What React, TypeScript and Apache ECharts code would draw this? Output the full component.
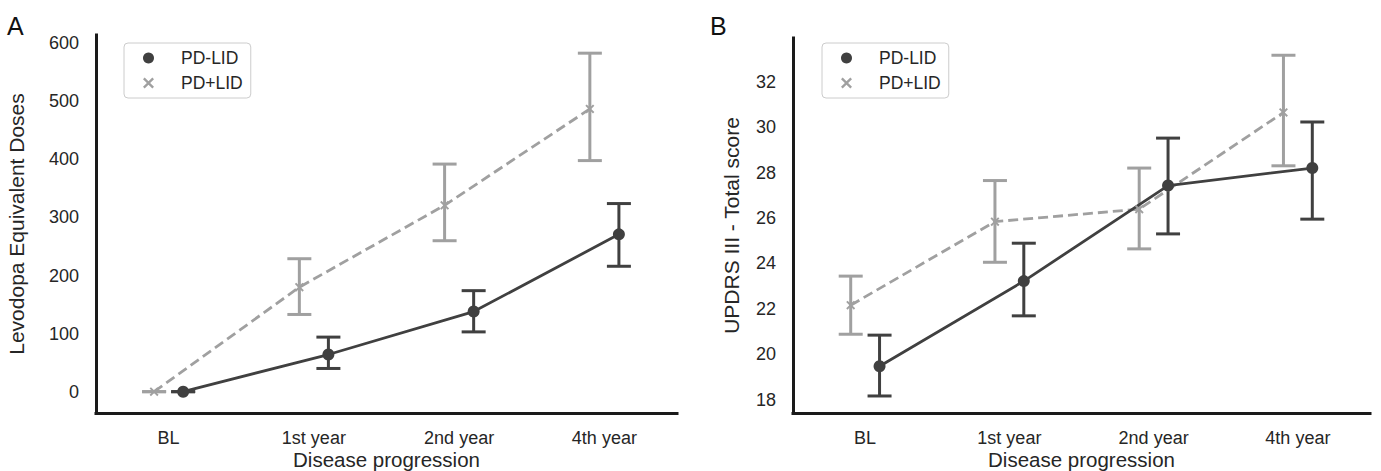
import React, { useEffect, useRef } from "react";
import * as echarts from "echarts";

const categories = ["BL", "1st year", "2nd year", "4th year"];
const seriesNames = ["PD-LID", "PD+LID"];

// Panel A: Levodopa Equivalent Doses
const ledNoLid = [0, 64, 138, 271];
const ledNoLidLo = [0, 40, 103, 216];
const ledNoLidHi = [0, 94, 174, 324];
const ledLid = [0, 180, 321, 487];
const ledLidLo = [0, 133, 260, 398];
const ledLidHi = [0, 229, 392, 583];
const ledTicks = [0, 100, 200, 300, 400, 500, 600];

// Panel B: UPDRS III - Total score
const updNoLid = [19.47, 23.22, 27.43, 28.2];
const updNoLidLo = [18.16, 21.69, 25.3, 25.95];
const updNoLidHi = [20.84, 24.89, 29.52, 30.23];
const updLid = [22.16, 25.84, 26.39, 30.65];
const updLidLo = [20.88, 24.05, 24.64, 28.3];
const updLidHi = [23.44, 27.65, 28.2, 33.17];
const updTicks = [18, 20, 22, 24, 26, 28, 30, 32];

const DARK = "#404040";
const LIGHT = "#a0a0a0";
const AXIS = "#1a1a1a";
const TEXT = "#262626";
const FONT = "'Liberation Sans', Arial, sans-serif";
const X_PATH =
  "path://M1.5,0L5,3.5L8.5,0L10,1.5L6.5,5L10,8.5L8.5,10L5,6.5L1.5,10L0,8.5L3.5,5L0,1.5Z";
const DODGE = 0.1;

function errorBarSeries(name: string, color: string, offset: number, lo: number[], hi: number[], g: number) {
  return {
    type: "custom",
    name,
    xAxisIndex: g,
    yAxisIndex: g,
    z: 2,
    silent: true,
    encode: { x: 0, y: [1, 2] },
    data: categories.map((_, i) => [i + offset, lo[i], hi[i]]),
    renderItem: (params: any, api: any) => {
      const x = api.value(0);
      const a = api.coord([x, api.value(1)]);
      const b = api.coord([x, api.value(2)]);
      const cw = 12;
      const style = { stroke: color, lineWidth: 3 };
      return {
        type: "group",
        children: [
          { type: "line", shape: { x1: a[0], y1: a[1], x2: b[0], y2: b[1] }, style },
          { type: "line", shape: { x1: a[0] - cw, y1: a[1], x2: a[0] + cw, y2: a[1] }, style },
          { type: "line", shape: { x1: b[0] - cw, y1: b[1], x2: b[0] + cw, y2: b[1] }, style },
        ],
      };
    },
  };
}

function lineSeries(name: string, color: string, offset: number, vals: number[], g: number, dashed: boolean) {
  return {
    type: "line",
    name,
    xAxisIndex: g,
    yAxisIndex: g,
    z: 3,
    data: vals.map((v, i) => [i + offset, v]),
    symbol: dashed ? X_PATH : "circle",
    symbolSize: dashed ? 9 : 12,
    itemStyle: { color, borderWidth: 0 },
    lineStyle: { color, width: 2.8, type: dashed ? [10, 5] : "solid" },
  };
}

function xAxis(g: number) {
  return {
    type: "value",
    gridIndex: g,
    min: -0.5,
    max: 3.5,
    axisLine: { onZero: false, lineStyle: { color: AXIS, width: 3, cap: "square" } },
    axisTick: { show: false },
    splitLine: { show: false },
    axisLabel: {
      customValues: [0, 1, 2, 3],
      formatter: (v: number) => categories[Math.round(v)] ?? "",
      fontSize: 18,
      color: TEXT,
      margin: 16,
      fontFamily: FONT,
    },
    name: "Disease progression",
    nameLocation: "middle",
    nameGap: 36,
    nameMoveOverlap: false,
    nameTextStyle: { fontSize: 20.5, color: TEXT, fontFamily: FONT, lineHeight: 21 },
  };
}

function yAxis(g: number, min: number, max: number, ticks: number[], name: string, gap: number) {
  return {
    type: "value",
    gridIndex: g,
    min,
    max,
    axisLine: { show: true, onZero: false, lineStyle: { color: AXIS, width: 3, cap: "square" } },
    axisTick: { show: false },
    splitLine: { show: false },
    axisLabel: {
      customValues: ticks,
      fontSize: 18,
      color: TEXT,
      margin: 17,
      fontFamily: FONT,
    },
    name,
    nameLocation: "middle",
    nameGap: gap,
    nameMoveOverlap: false,
    nameTextStyle: { fontSize: 21, color: TEXT, fontFamily: FONT },
  };
}

function legend(left: number) {
  return {
    orient: "vertical",
    left,
    top: 43,
    selectedMode: false,
    data: [
      { name: seriesNames[0], icon: "circle" },
      { name: seriesNames[1], icon: X_PATH },
    ],
    itemWidth: 11,
    itemHeight: 11,
    itemGap: 7,
    padding: [6, 8, 6, 19],
    borderColor: "#cccccc",
    borderWidth: 1,
    borderRadius: 4,
    backgroundColor: "#ffffff",
    formatter: (name: string) => "{s| }{t|" + name + "}",
    textStyle: {
      fontSize: 17.5,
      color: TEXT,
      fontFamily: FONT,
      rich: {
        s: { width: 22, fontSize: 17.5, lineHeight: 18 },
        t: { fontSize: 17.5, color: TEXT, fontFamily: FONT, lineHeight: 18 },
      },
    },
  };
}

export default function App() {
  const ref = useRef<HTMLDivElement>(null);
  useEffect(() => {
    if (!ref.current) return;
    const chart = echarts.init(ref.current, undefined, { renderer: "svg" });
    chart.setOption({
      animation: false,
      backgroundColor: "#ffffff",
      textStyle: { fontFamily: FONT },
      grid: [
        { left: 96, top: 35, right: 704, bottom: 58, containLabel: false, outerBoundsMode: "none" },
        { left: 793, top: 38, right: 11, bottom: 58, containLabel: false, outerBoundsMode: "none" },
      ],
      xAxis: [xAxis(0), xAxis(1)],
      yAxis: [
        yAxis(0, -36.7, 614.3, ledTicks, "Levodopa Equivalent Doses", 69),
        yAxis(1, 17.41, 33.93, updTicks, "UPDRS III - Total score", 51),
      ],
      legend: [legend(124), legend(822)],
      graphic: [
        { type: "text", left: 7, top: 13, style: { text: "A", fontSize: 25, fill: "#111111", fontFamily: FONT } },
        { type: "text", left: 710, top: 13, style: { text: "B", fontSize: 25, fill: "#111111", fontFamily: FONT } },
      ],
      series: [
        errorBarSeries("err-a-nolid", DARK, DODGE, ledNoLidLo, ledNoLidHi, 0),
        errorBarSeries("err-a-lid", LIGHT, -DODGE, ledLidLo, ledLidHi, 0),
        lineSeries(seriesNames[1], LIGHT, -DODGE, ledLid, 0, true),
        lineSeries(seriesNames[0], DARK, DODGE, ledNoLid, 0, false),
        errorBarSeries("err-b-nolid", DARK, DODGE, updNoLidLo, updNoLidHi, 1),
        errorBarSeries("err-b-lid", LIGHT, -DODGE, updLidLo, updLidHi, 1),
        lineSeries(seriesNames[1], LIGHT, -DODGE, updLid, 1, true),
        lineSeries(seriesNames[0], DARK, DODGE, updNoLid, 1, false),
      ],
    });
    return () => chart.dispose();
  }, []);
  return (
    <div
      ref={ref}
      style={{ position: "absolute", left: 0, top: 0, width: 1381, height: 471 }}
    />
  );
}
